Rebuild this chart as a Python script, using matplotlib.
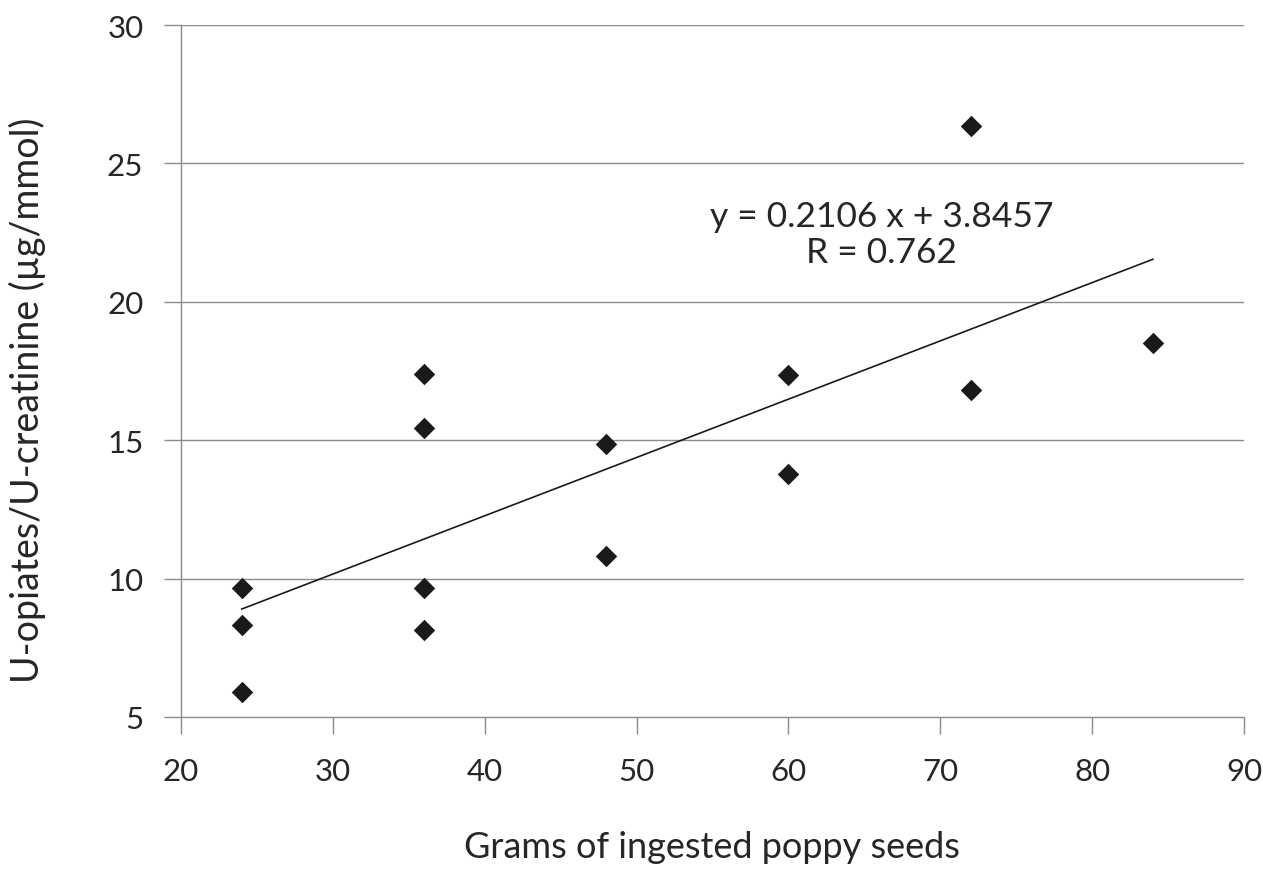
import numpy as np
import matplotlib
matplotlib.use("Agg")
import matplotlib.pyplot as plt

plt.rcParams['font.family'] = ['Lato', 'DejaVu Sans']

# grams of poppy seeds vs urine opiates/creatinine
grams = [24, 24, 24, 36, 36, 36, 36, 48, 48, 60, 60, 72, 72, 84]
ratio = [9.66, 8.32, 5.9, 17.39, 15.44, 9.66, 8.14, 14.86, 10.82, 17.36, 13.78, 26.35, 16.8, 18.51]

slope = 0.2106
intercept = 3.8457
r_value = 0.762

x_ticks = [20, 30, 40, 50, 60, 70, 80, 90]
y_ticks = [5, 10, 15, 20, 25, 30]

W, H = 1263, 870
fig = plt.figure(figsize=(W / 100, H / 100), dpi=100)
ax = fig.add_axes([181 / W, 1 - 718 / H, (1244 - 181) / W, (718 - 26) / H])

gcol = '#8c8c8c'
tcol = '#262626'
for yv in y_ticks[1:]:
	ax.axhline(yv, color=gcol, lw=1.0, zorder=1)

ax.scatter(grams, ratio, marker='D', s=120, color='#1a1a1a', zorder=3, linewidths=0)

xl = np.array([min(grams), max(grams)])
ax.plot(xl, slope * xl + intercept, color='#1a1a1a', lw=1.2, zorder=2)

ax.text(66.15, 22.45, "y = 0.2106 x + 3.8457\nR = %.3f" % r_value, ha='center', va='center',
	fontsize=25.5, color=tcol, linespacing=1.15)

ax.set_xlim(20, 90)
ax.set_ylim(5, 30)
ax.set_xticks(x_ticks)
ax.set_yticks(y_ticks)
ax.tick_params(axis='both', labelsize=22.5, colors=gcol, labelcolor=tcol, length=12, width=1.0)
ax.tick_params(axis='x', pad=17)
ax.tick_params(axis='y', pad=15)

for s in ['top', 'right']:
	ax.spines[s].set_visible(False)
for s in ['left', 'bottom']:
	ax.spines[s].set_color(gcol)
	ax.spines[s].set_linewidth(1.0)

# axis titles placed in figure pixels
fig.text(712 / W, 1 - 858 / H, "Grams of ingested poppy seeds", ha='center', va='baseline',
	fontsize=26, color=tcol)
fig.text(27 / W, 1 - 400 / H, "U-opiates/U-creatinine (µg/mmol)", ha='center', va='center',
	rotation=90, fontsize=27, color=tcol)

fig.savefig("out.png", dpi=100)
